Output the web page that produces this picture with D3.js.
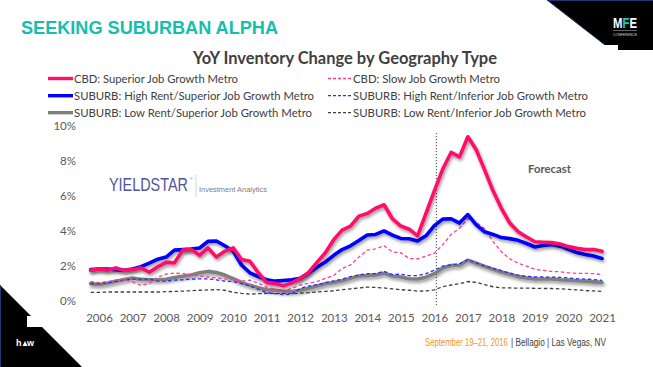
<!DOCTYPE html>
<html><head><meta charset="utf-8">
<script src="https://cdn.jsdelivr.net/npm/d3@7"></script>
<style>
html,body{margin:0;padding:0;background:#fff;}
svg{display:block;}
</style></head>
<body>
<svg id="c" width="653" height="367"></svg>
<script>
// ---------- DATA ----------
const yearLabels = ["2006","2007","2008","2009","2010","2011","2012","2013","2014","2015","2016","2017","2018","2019","2020","2021"];
const yTicks = [0, 2, 4, 6, 8, 10];
// quarterly periods, 2005 Q4 .. 2021 Q1
const periods = [];
for (let y = 2005; y <= 2021; y++) for (let q = 1; q <= 4; q++) {
  const t = y + (q - 1) / 4;
  if (t >= 2005.75 && t <= 2021.0) periods.push(t);
}
const cbdSuperior = [1.74,1.82,1.74,1.88,1.74,1.78,1.88,1.63,1.94,2.2,2.17,2.9,2.93,2.6,3.03,2.5,2.83,3.03,2.36,2.26,1.6,1.05,0.98,0.85,1.02,1.28,1.62,2.2,2.75,3.5,4.05,4.28,4.85,5.0,5.3,5.5,4.7,4.28,4.1,3.72,5.0,6.3,7.55,8.5,8.25,9.4,8.65,7.5,6.3,5.3,4.45,3.95,3.65,3.38,3.35,3.33,3.25,3.1,3.0,2.93,2.93,2.83];
const cbdSlow = [1.1,1.03,1.1,1.18,1.2,1.08,0.88,0.98,1.35,1.52,1.58,1.55,1.5,1.42,1.36,1.3,1.25,1.2,1.12,1.18,1.0,0.78,0.65,0.55,0.7,0.9,1.0,1.1,1.28,1.45,1.85,2.05,2.5,2.9,2.97,3.15,2.8,2.75,2.42,2.4,2.55,2.72,3.2,3.8,4.15,4.7,4.5,4.12,3.4,2.8,2.4,2.15,1.98,1.8,1.74,1.68,1.66,1.6,1.57,1.57,1.55,1.5];
const subHighSuperior = [1.78,1.82,1.82,1.78,1.75,1.82,1.95,2.15,2.38,2.5,2.9,2.93,2.96,3.02,3.4,3.42,3.15,2.85,2.05,1.6,1.38,1.2,1.12,1.16,1.2,1.28,1.58,1.92,2.22,2.6,2.93,3.15,3.45,3.77,3.8,4.0,3.76,3.57,3.55,3.42,3.72,4.3,4.68,4.7,4.45,4.94,4.35,3.95,3.8,3.62,3.56,3.46,3.28,3.08,3.17,3.22,3.13,2.95,2.76,2.65,2.56,2.42];
const subHighInferior = [0.98,0.98,1.03,1.1,1.18,1.24,1.24,1.24,1.12,1.12,1.18,1.2,1.24,1.25,1.25,1.2,1.12,1.1,0.98,0.85,0.65,0.46,0.4,0.35,0.38,0.7,0.84,0.92,1.03,1.14,1.23,1.38,1.48,1.55,1.56,1.68,1.5,1.52,1.44,1.44,1.55,1.75,1.98,2.06,2.12,2.36,2.17,2.0,1.85,1.72,1.58,1.46,1.4,1.37,1.36,1.35,1.34,1.3,1.26,1.24,1.21,1.17];
const subLowSuperior = [0.98,0.93,1.0,1.12,1.22,1.3,1.22,1.2,1.2,1.23,1.33,1.4,1.47,1.6,1.68,1.62,1.47,1.27,1.05,0.88,0.75,0.63,0.6,0.54,0.53,0.6,0.71,0.84,0.97,1.04,1.15,1.28,1.42,1.44,1.48,1.58,1.42,1.36,1.26,1.24,1.35,1.55,1.88,2.02,2.03,2.32,2.15,1.97,1.8,1.65,1.52,1.38,1.3,1.25,1.24,1.24,1.2,1.18,1.14,1.12,1.08,1.05];
const subLowInferior = [0.48,0.48,0.5,0.5,0.5,0.5,0.5,0.5,0.5,0.52,0.53,0.55,0.57,0.6,0.62,0.63,0.6,0.48,0.42,0.38,0.4,0.42,0.42,0.42,0.42,0.44,0.46,0.5,0.53,0.57,0.63,0.68,0.73,0.78,0.76,0.73,0.68,0.63,0.6,0.55,0.56,0.62,0.8,0.9,0.97,1.1,1.05,0.92,0.8,0.74,0.73,0.72,0.72,0.71,0.7,0.7,0.68,0.65,0.62,0.58,0.56,0.53];
const forecastYear = 2016;

const series = [
  {name:"SUBURB: Low Rent/Inferior Job Growth Metro", values:subLowInferior, color:"#404040", width:1.3, dash:"3.5,2.5", solid:false},
  {name:"SUBURB: Low Rent/Superior Job Growth Metro", values:subLowSuperior, color:"#7f7f7f", width:3.6, dash:null, solid:true},
  {name:"SUBURB: High Rent/Inferior Job Growth Metro", values:subHighInferior, color:"#2b2bff", width:1.3, dash:"3.5,2.5", solid:false},
  {name:"CBD: Slow Job Growth Metro", values:cbdSlow, color:"#ff3f8f", width:1.3, dash:"3.5,2.5", solid:false},
  {name:"SUBURB: High Rent/Superior Job Growth Metro", values:subHighSuperior, color:"#0000ff", width:3.6, dash:null, solid:true},
  {name:"CBD: Superior Job Growth Metro", values:cbdSuperior, color:"#ff0f6b", width:3.6, dash:null, solid:true}
];
const legendLeft = [
  {name:"CBD: Superior Job Growth Metro", color:"#ff0f6b", width:3.4, dash:null, len:164},
  {name:"SUBURB: High Rent/Superior Job Growth Metro", color:"#0000ff", width:3.4, dash:null, len:240},
  {name:"SUBURB: Low Rent/Superior Job Growth Metro", color:"#7f7f7f", width:3.4, dash:null, len:238}
];
const legendRight = [
  {name:"CBD: Slow Job Growth Metro", color:"#ff3f8f", width:1.3, dash:"3,2", len:147},
  {name:"SUBURB: High Rent/Inferior Job Growth Metro", color:"#2b2bff", width:1.3, dash:"3,2", len:235},
  {name:"SUBURB: Low Rent/Inferior Job Growth Metro", color:"#404040", width:1.3, dash:"3,2", len:233}
];

// ---------- DRAW ----------
const svg = d3.select("#c");
const defs = svg.append("defs");
const f = defs.append("filter").attr("id","sh").attr("x","-10%").attr("y","-20%").attr("width","130%").attr("height","160%");
f.append("feDropShadow").attr("dx",1.2).attr("dy",2.2).attr("stdDeviation",1.6).attr("flood-color","#000").attr("flood-opacity",0.4);
const gr = defs.append("linearGradient").attr("id","mfe").attr("gradientUnits","userSpaceOnUse")
  .attr("x1",613).attr("x2",637).attr("y1",0).attr("y2",0);
[[0,"#fff"],[0.41,"#fff"],[0.41,"#1ec8b4"],[0.7,"#1ec8b4"],[0.7,"#fff"],[1,"#fff"]].forEach(([o,c])=>
  gr.append("stop").attr("offset",o).attr("stop-color",c));

// text squeezed horizontally (via transform) to a target width
function fitText(sel, x, targetW) {
  const w = sel.node().getComputedTextLength();
  const k = Math.min(1, targetW / w);
  sel.attr("transform", `translate(${x},0) scale(${k},1) translate(${-x},0)`);
  return sel;
}

// decorative shapes
svg.append("path").attr("d","M547,0 L653,0 L653,50 L618,50 L618,45 L605,45 Z").attr("fill","#000");
svg.append("line").attr("x1",547).attr("y1",0).attr("x2",653).attr("y2",0).attr("stroke","#1f3a6e").attr("stroke-width",2);
svg.append("line").attr("x1",547).attr("y1",0).attr("x2",605).attr("y2",45).attr("stroke","#1f3a6e").attr("stroke-width",1);
const mfeFont = "Liberation Sans Narrow, Liberation Sans, sans-serif";
svg.append("text").attr("x",613).attr("y",28).attr("font-family",mfeFont).attr("font-weight","bold").attr("font-size",15)
  .attr("fill","url(#mfe)").attr("textLength",24).attr("lengthAdjust","spacingAndGlyphs").text("MFE");
svg.append("line").attr("x1",613).attr("y1",30.5).attr("x2",637).attr("y2",30.5).attr("stroke","#aaa").attr("stroke-width",0.6);
svg.append("text").attr("x",613).attr("y",35.5).attr("font-family",mfeFont).attr("font-size",3.6).attr("fill","#ddd")
  .attr("textLength",24).attr("lengthAdjust","spacingAndGlyphs").text("CONFERENCE");

svg.append("path").attr("d","M0,285 L82,367 L0,367 Z").attr("fill","#000");
svg.append("rect").attr("x",27).attr("y",316).attr("width",20).attr("height",11).attr("fill","#fff");
svg.append("line").attr("x1",0.5).attr("y1",285).attr("x2",0.5).attr("y2",367).attr("stroke","#1f3a6e").attr("stroke-width",1);
svg.append("text").attr("x",16).attr("y",346).attr("font-family","Liberation Sans, sans-serif").attr("font-weight","bold").attr("font-size",9).attr("fill","#fff").text("h");
svg.append("path").attr("d","M22.5,346 L25,341 L27.5,346 Z").attr("fill","#fff");
svg.append("text").attr("x",27).attr("y",346).attr("font-family","Liberation Sans, sans-serif").attr("font-weight","bold").attr("font-size",9).attr("fill","#fff").text("w");

// headline
svg.append("text").attr("x",21).attr("y",33.5).attr("font-family","Liberation Sans, Arial, sans-serif").attr("font-weight","bold")
  .attr("font-size",18).attr("fill","#14bfae").attr("textLength",257).attr("lengthAdjust","spacingAndGlyphs").text("SEEKING SUBURBAN ALPHA");

// chart title
svg.append("text").attr("x",345).attr("y",64).attr("text-anchor","middle").attr("font-family","Lato, Open Sans, sans-serif").attr("font-weight","bold")
  .attr("font-size",16.5).attr("fill","#404040").attr("textLength",304).attr("lengthAdjust","spacingAndGlyphs").text("YoY Inventory Change by Geography Type");

// legend
function legendRow(g, item, lx1, lx2, tx, y) {
  g.append("line").attr("x1",lx1).attr("x2",lx2).attr("y1",y).attr("y2",y)
    .attr("stroke",item.color).attr("stroke-width",item.width).attr("stroke-dasharray",item.dash);
  g.append("text").attr("x",tx).attr("y",y+4).attr("font-family","Lato, Open Sans, sans-serif").attr("font-size",11.5)
    .attr("fill","#404040").attr("textLength",item.len).attr("lengthAdjust","spacingAndGlyphs").text(item.name);
}
const lg = svg.append("g");
const rowsY = [78.5, 95.7, 112.7];
legendLeft.forEach((d,i)=>legendRow(lg,d,48,73,74,rowsY[i]));
legendRight.forEach((d,i)=>legendRow(lg,d,328,352,353,rowsY[i]));

// scales
const x = d3.scaleLinear().domain([2006, 2021]).range([99, 602]);
const y = d3.scaleLinear().domain([0, 10]).range([300.7, 126.3]);

// y axis
const ya = svg.append("g").attr("transform","translate(79,0)")
  .call(d3.axisLeft(y).tickValues(yTicks).tickFormat(d=>d+"%").tickSize(0).tickPadding(3));
ya.select(".domain").remove();
ya.selectAll("text").attr("font-family","Lato, Open Sans, sans-serif").attr("font-size",11.5).attr("fill","#595959");

// x axis
const xa = svg.append("g").attr("transform","translate(0,310.5)")
  .call(d3.axisBottom(x).tickValues(yearLabels.map(Number)).tickFormat((d,i)=>yearLabels[i]).tickSize(0).tickPadding(3));
xa.select(".domain").remove();
xa.selectAll("text").attr("font-family","Lato, Open Sans, sans-serif").attr("font-size",11.5).attr("fill","#595959");

// YieldStar logo
fitText(svg.append("text").attr("x",109).attr("y",191.5).attr("font-family","Liberation Sans Narrow, Liberation Sans, sans-serif")
  .attr("font-size",17.5).attr("fill","#50539a").text("YIELDSTAR"), 109, 79);
svg.append("text").attr("x",190).attr("y",179.5).attr("font-family","Liberation Sans, sans-serif").attr("font-size",3.5).attr("fill","#50539a").text("®");
svg.append("line").attr("x1",196).attr("x2",196).attr("y1",175).attr("y2",197).attr("stroke","#c8c8d0").attr("stroke-width",0.8);
fitText(svg.append("text").attr("x",199).attr("y",192).attr("font-family","Liberation Sans, sans-serif").attr("font-size",7.5).attr("fill","#808080")
  .text("Investment Analytics"), 199, 68);

// forecast divider
svg.append("line").attr("x1",x(forecastYear)+2).attr("x2",x(forecastYear)+2).attr("y1",133).attr("y2",305)
  .attr("stroke","#404040").attr("stroke-width",1).attr("stroke-dasharray","1.2,1.8");
svg.append("text").attr("x",528).attr("y",173).attr("font-family","Lato, Open Sans, sans-serif").attr("font-weight","bold")
  .attr("font-size",11.5).attr("fill","#595959").attr("textLength",43).attr("lengthAdjust","spacingAndGlyphs").text("Forecast");

// lines
const line = d3.line().x((d,i)=>x(periods[i])).y(d=>y(d));
series.forEach(s=>{
  svg.append("path").datum(s.values).attr("d",line).attr("fill","none")
    .attr("stroke",s.color).attr("stroke-width",s.width).attr("stroke-dasharray",s.dash)
    .attr("stroke-linejoin","round").attr("stroke-linecap", s.solid ? "round" : "butt")
    .attr("filter", s.solid ? "url(#sh)" : null);
});

// footer
const ff = "Liberation Sans Narrow, Liberation Sans, sans-serif";
fitText(svg.append("text").attr("x",425).attr("y",346).attr("font-family",ff).attr("font-size",10).attr("fill","#f7941d")
  .text("September 19–21, 2016"), 425, 83);
fitText(svg.append("text").attr("x",511).attr("y",346).attr("font-family",ff).attr("font-size",10).attr("fill","#404040")
  .text("| Bellagio | Las Vegas, NV"), 511, 95);
</script>
</body></html>
